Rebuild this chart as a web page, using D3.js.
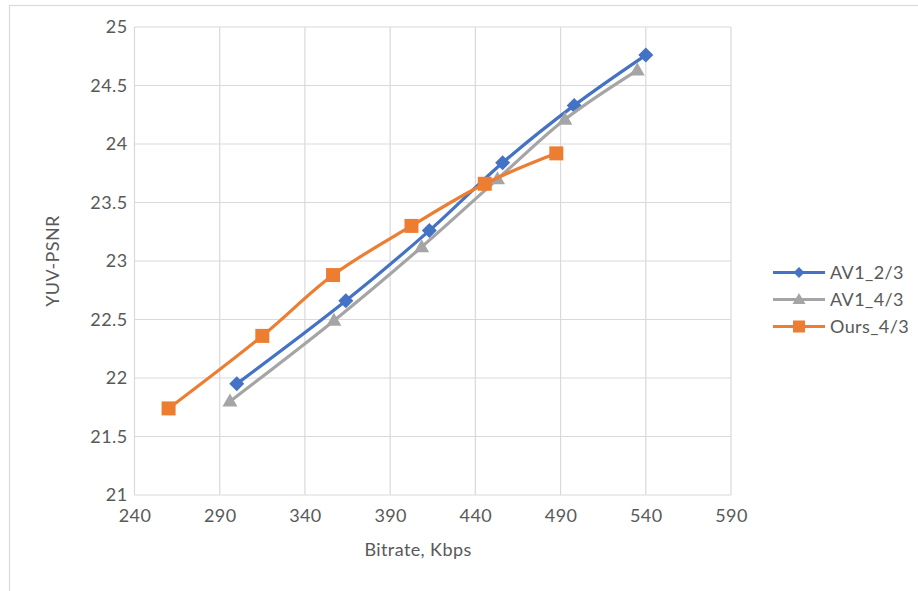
<!DOCTYPE html>
<html>
<head>
<meta charset="utf-8">
<script src="https://cdn.jsdelivr.net/npm/d3@7/dist/d3.min.js"></script>
<style>
  html, body { margin: 0; padding: 0; background: #fff; }
  svg { display: block; font-family: Lato, "Open Sans", sans-serif; }
</style>
</head>
<body>
<svg id="chart" width="918" height="591"></svg>
<script>
// Rate-distortion curves: bitrate (Kbps) vs YUV-PSNR (dB)
const seriesNames = ["AV1_2/3", "AV1_4/3", "Ours_4/3"];
const av1TwoThirdsBitrate = [300, 364, 413, 456, 498, 540];
const av1TwoThirdsPsnr    = [21.95, 22.66, 23.26, 23.84, 24.33, 24.76];
const av1FourThirdsBitrate = [296, 357, 408.5, 453, 492.5, 535];
const av1FourThirdsPsnr    = [21.80, 22.49, 23.12, 23.70, 24.21, 24.63];
const oursFourThirdsBitrate = [260, 315, 356.5, 402.5, 445.5, 487.5];
const oursFourThirdsPsnr    = [21.74, 22.36, 22.88, 23.30, 23.66, 23.92];
const xTicks = [240, 290, 340, 390, 440, 490, 540, 590];
const yTicks = [21, 21.5, 22, 22.5, 23, 23.5, 24, 24.5, 25];

const colors = ["#4472C4", "#A5A5A5", "#ED7D31"];

// marker shapes given by their full width (w) and height (h)
const diamond = (w, h) => ({ draw(ctx) {
  ctx.moveTo(0, -h / 2); ctx.lineTo(w / 2, 0); ctx.lineTo(0, h / 2); ctx.lineTo(-w / 2, 0); ctx.closePath();
}});
const triangle = (w, h) => ({ draw(ctx) {
  ctx.moveTo(0, -h * 0.6); ctx.lineTo(w / 2, h * 0.4); ctx.lineTo(-w / 2, h * 0.4); ctx.closePath();
}});
const square = (w) => ({ draw(ctx) {
  ctx.rect(-w / 2, -w / 2, w, w);
}});
const plotMarkers = [diamond(15, 15), triangle(15, 13), square(14)];
const legendMarkers = [diamond(11, 11), triangle(13, 11), square(12)];

const series = [
  { name: seriesNames[0], xs: av1TwoThirdsBitrate, ys: av1TwoThirdsPsnr },
  { name: seriesNames[1], xs: av1FourThirdsBitrate, ys: av1FourThirdsPsnr },
  { name: seriesNames[2], xs: oursFourThirdsBitrate, ys: oursFourThirdsPsnr }
];

const svg = d3.select("#chart");
const textColor = "#595959";
const gridColor = "#d9d9d9";
const fontSize = "18px";
const spacing = "0.4px";

// chart frame
svg.append("rect")
  .attr("x", 9.5).attr("y", 5.5)
  .attr("width", 1000).attr("height", 1000)
  .attr("fill", "none").attr("stroke", gridColor).attr("stroke-width", 1.2);

const plot = { left: 134.5, right: 731, top: 27, bottom: 495 };
const x = d3.scaleLinear().domain([240, 590]).range([plot.left, plot.right]);
const y = d3.scaleLinear().domain([21, 25]).range([plot.bottom, plot.top]);

// gridlines
const grid = svg.append("g");
grid.selectAll("line.v").data(xTicks).join("line")
  .attr("x1", d => x(d)).attr("x2", d => x(d))
  .attr("y1", plot.top).attr("y2", plot.bottom)
  .attr("stroke", gridColor).attr("stroke-width", 1.2);
grid.selectAll("line.h").data(yTicks).join("line")
  .attr("x1", plot.left).attr("x2", plot.right)
  .attr("y1", d => y(d)).attr("y2", d => y(d))
  .attr("stroke", gridColor).attr("stroke-width", 1.2);

// axes (labels only)
const xAxis = svg.append("g")
  .attr("transform", `translate(0,${plot.bottom})`)
  .call(d3.axisBottom(x).tickValues(xTicks).tickSize(0).tickPadding(14).tickFormat(d3.format("d")));
const yAxis = svg.append("g")
  .attr("transform", `translate(${plot.left},0)`)
  .call(d3.axisLeft(y).tickValues(yTicks).tickSize(0).tickPadding(7).tickFormat(d => String(d)));
[xAxis, yAxis].forEach(a => {
  a.select(".domain").remove();
  a.selectAll("text").attr("fill", textColor)
    .style("font-size", fontSize).style("letter-spacing", spacing)
    .style("font-family", "Lato, sans-serif");
});

// axis titles
svg.append("text")
  .attr("x", 418).attr("y", 556)
  .attr("text-anchor", "middle")
  .attr("fill", textColor).style("font-size", fontSize).style("letter-spacing", spacing)
  .text("Bitrate, Kbps");
svg.append("text")
  .attr("transform", `translate(59,261) rotate(-90)`)
  .attr("text-anchor", "middle")
  .attr("fill", textColor).style("font-size", fontSize).style("letter-spacing", spacing)
  .text("YUV-PSNR");

// series lines and markers
const line = d3.line().curve(d3.curveCatmullRom.alpha(0.5));
series.forEach((s, i) => {
  const pts = s.xs.map((v, j) => [x(v), y(s.ys[j])]);
  svg.append("path")
    .attr("d", line(pts))
    .attr("fill", "none")
    .attr("stroke", colors[i])
    .attr("stroke-width", 3.2)
    .attr("stroke-linejoin", "round");
  svg.append("g").selectAll("path").data(pts).join("path")
    .attr("transform", d => `translate(${d[0]},${d[1]})`)
    .attr("d", d3.symbol().type(plotMarkers[i]))
    .attr("fill", colors[i]);
});

// legend
const legend = svg.append("g");
const legendY = [272.5, 299.5, 326.5];
series.forEach((s, i) => {
  const g = legend.append("g").attr("transform", `translate(0,${legendY[i]})`);
  g.append("line")
    .attr("x1", 773).attr("x2", 825)
    .attr("stroke", colors[i]).attr("stroke-width", 3.2);
  g.append("path")
    .attr("transform", "translate(799,0)")
    .attr("d", d3.symbol().type(legendMarkers[i]))
    .attr("fill", colors[i]);
  g.append("text")
    .attr("x", 830).attr("y", 0).attr("dy", "0.35em")
    .attr("fill", textColor).style("font-size", fontSize).style("letter-spacing", spacing)
    .text(s.name);
});
</script>
</body>
</html>
